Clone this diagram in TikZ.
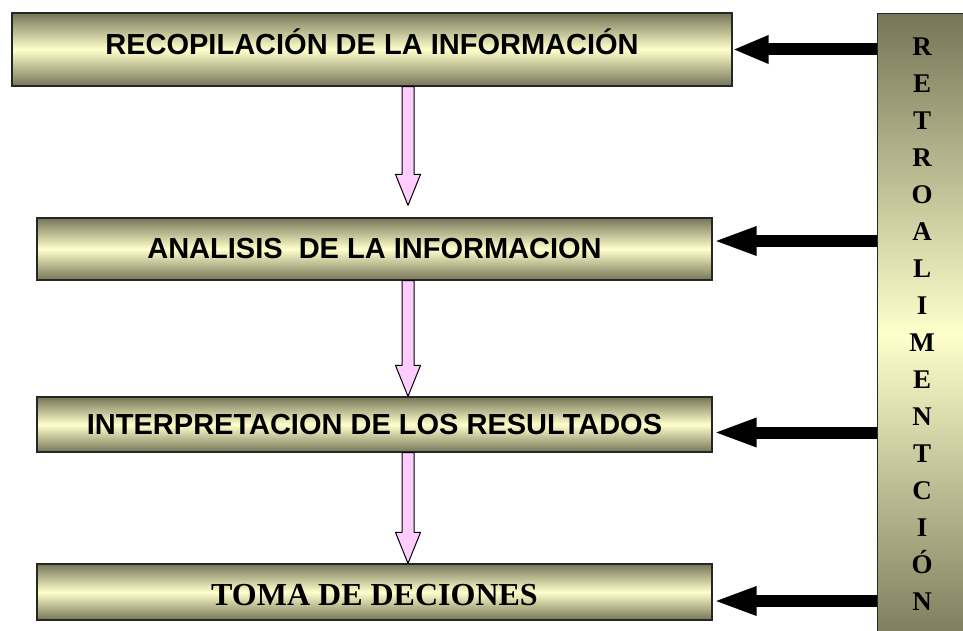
\documentclass[tikz,border=0pt]{standalone}
\usepackage{fontspec}
\setmainfont{Liberation Serif}
\newfontfamily\arialfont{Liberation Sans}
\usetikzlibrary{arrows.meta,calc}

\definecolor{oliveDark}{RGB}{118,118,88}
\definecolor{creamLight}{RGB}{255,255,204}
\definecolor{pinkArrow}{RGB}{255,204,255}

\begin{document}
\begin{tikzpicture}[x=1pt,y=-1pt,
    stage/.style={draw=black!85, line width=1.2pt, top color=oliveDark, bottom color=oliveDark,
        middle color=creamLight, inner sep=0pt, font=\arialfont\bfseries\fontsize{29}{34}\selectfont},
    feedback/.style={-{Triangle[length=44pt,width=26pt]}, line width=12pt},
    flow/.style={draw=black, line width=1pt, fill=pinkArrow, line join=round}]
    \useasboundingbox (0,0) rectangle (963,631);

    % etapas
    \node[stage, minimum width=720pt, minimum height=73pt] (recop) at (372,49.5)
        {\raisebox{8pt}[\height][\depth]{RECOPILACIÓN DE LA INFORMACIÓN}};
    \node[stage, minimum width=675pt, minimum height=62pt] (analisis) at (374.5,249) {ANALISIS\ \ DE LA INFORMACION};
    \node[stage, minimum width=675pt, minimum height=55pt] (interp) at (374.5,424.5) {INTERPRETACION DE LOS RESULTADOS};
    \node[stage, minimum width=675pt, minimum height=56pt, font=\bfseries\fontsize{32}{38}\selectfont] (toma) at (374.5,592)
        {\raisebox{-3pt}[\height][\depth]{TOMA DE DECIONES}};

    % columna de retroalimentacion
    \node[stage, minimum width=100pt, minimum height=640pt, anchor=north west] (retro) at (877,13) {};
    \node[font=\bfseries\fontsize{27}{37}\selectfont, align=center] (letras) at (922,324.5)
        {R\\E\\T\\R\\O\\A\\L\\I\\M\\E\\N\\T\\C\\I\\Ó\\N};

    \draw[feedback, -{Triangle[length=36pt,width=26pt]}] (retro.west |- recop.east) -- (recop.east);
    \draw[feedback] ($(retro.west |- analisis.east)+(0,-8)$) -- ($(analisis.east)+(0,-8)$);
    \draw[feedback] ($(retro.west |- interp.east)+(0,8)$) -- ($(interp.east)+(0,8)$);
    \draw[feedback] ($(retro.west |- toma.east)+(0,9)$) -- ($(toma.east)+(0,9)$);

    % flechas rosas
    \foreach \a/\b/\g in {recop/analisis/12, analisis/interp/0, interp/toma/0}
        \draw[flow] let \p1=(\a.south), \p2=(\b.north) in
            (402pt,\y1) -- (402pt,{\y2+\g pt+31pt}) -- (395.5pt,{\y2+\g pt+31pt})
            -- (408pt,{\y2+\g pt}) -- (420.5pt,{\y2+\g pt+31pt}) -- (414pt,{\y2+\g pt+31pt})
            -- (414pt,\y1) -- cycle;
\end{tikzpicture}
\end{document}
